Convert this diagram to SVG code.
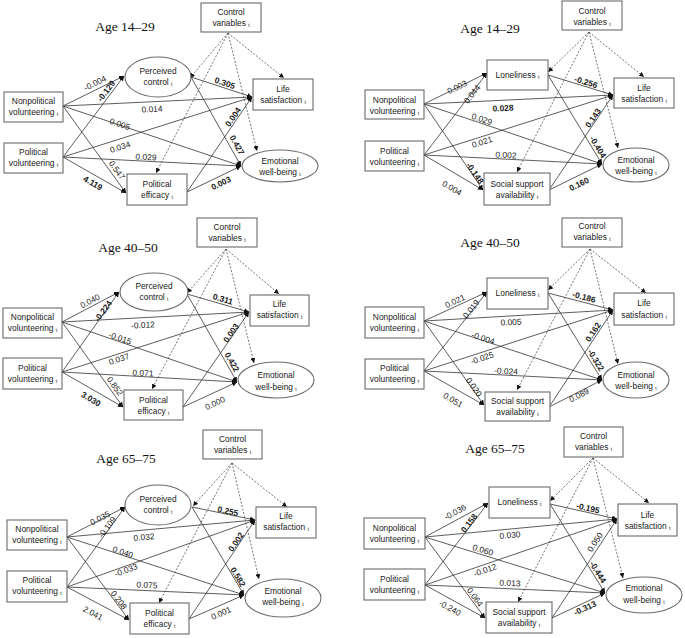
<svg xmlns="http://www.w3.org/2000/svg" width="685" height="638" viewBox="0 0 685 638">
<style>
.bg{fill:#fff}
.bx{fill:#fff;stroke:#6b6b6b;stroke-width:1.1}
.n{font-family:"Liberation Sans",Arial,sans-serif;font-size:8.4px;fill:#1a1a1a;text-anchor:middle}
.s{font-size:5px}
.ttl{font-family:"Liberation Serif","Times New Roman",serif;font-size:13.5px;fill:#111;text-anchor:middle}
.e{stroke:#333;stroke-width:0.8;fill:none;marker-end:url(#ah)}
.d{stroke:#444;stroke-width:0.75;fill:none;stroke-dasharray:2 1.6;marker-end:url(#ah)}
.l{font-family:"Liberation Sans",Arial,sans-serif;font-size:8.4px;fill:#1a1a1a;text-anchor:middle;dominant-baseline:central}
.b{font-weight:bold}
</style>
<defs>
<marker id="ah" viewBox="0 0 6 6" refX="6" refY="3" markerWidth="5" markerHeight="5" markerUnits="userSpaceOnUse" orient="auto">
<path d="M0,0 L6,3 L0,6 z" fill="#111"/>
</marker>
</defs>
<rect class="bg" x="0" y="0" width="685" height="638"/>

<!-- ================= PANEL 1 ================= -->
<g id="panel1">
<text class="ttl" x="125" y="31">Age 14–29</text>
<g id="p1-connectors">
<path class="e" d="M63,106 L124,76"/>
<path class="e" d="M63,106 L252,97"/>
<path class="e" d="M63,106 L241,166"/>
<path class="e" d="M63,106 L126,193"/>
<path class="e" d="M63,157 L124,76"/>
<path class="e" d="M63,157 L252,97"/>
<path class="e" d="M63,157 L241,166"/>
<path class="e" d="M63,157 L126,193"/>
<path class="e" d="M191,77 L252,97"/>
<path class="e" d="M191,77 L241,166"/>
<path class="e" d="M187,192 L252,97"/>
<path class="e" d="M187,192 L241,166"/>
<path class="d" d="M228,33 L190,78"/>
<path class="d" d="M228,33 L156,173"/>
<path class="d" d="M228,33 L284,78"/>
<path class="d" d="M228,33 L257,151"/>
</g>
<g id="p1-cv"><rect class="bx" x="201" y="3" width="60" height="29"/><text class="n" x="231" y="15">Control</text><text class="n" x="231" y="26">variables <tspan class="s" dy="1">t</tspan></text></g>
<g id="p1-np"><rect class="bx" x="4" y="92" width="59" height="30"/><text class="n" x="33.5" y="104">Nonpolitical</text><text class="n" x="33.5" y="115">volunteering <tspan class="s" dy="1">t</tspan></text></g>
<g id="p1-p"><rect class="bx" x="4" y="143" width="59" height="30"/><text class="n" x="33.5" y="155">Political</text><text class="n" x="33.5" y="166">volunteering <tspan class="s" dy="1">t</tspan></text></g>
<g id="p1-pc"><ellipse class="bx" cx="158" cy="77" rx="33" ry="20"/><text class="n" x="158" y="74">Perceived</text><text class="n" x="158" y="85">control <tspan class="s" dy="1">t</tspan></text></g>
<g id="p1-pe"><rect class="bx" x="127" y="174" width="60" height="31"/><text class="n" x="157" y="187">Political</text><text class="n" x="157" y="198">efficacy <tspan class="s" dy="1">t</tspan></text></g>
<g id="p1-ls"><rect class="bx" x="253" y="79" width="60" height="31"/><text class="n" x="283" y="92">Life</text><text class="n" x="283" y="103">satisfaction <tspan class="s" dy="1">t</tspan></text></g>
<g id="p1-ewb"><ellipse class="bx" cx="280" cy="166" rx="38" ry="16"/><text class="n" x="280" y="164">Emotional</text><text class="n" x="280" y="175">well-being <tspan class="s" dy="1">t</tspan></text></g>
<g id="p1-labels">
<text class="l" transform="translate(95,83) rotate(-26)">-0.004</text>
<text class="l b" transform="translate(106,91) rotate(-53)">-0.129</text>
<text class="l" transform="translate(152,109) rotate(-3)">0.014</text>
<text class="l" transform="translate(120,124) rotate(19)">0.005</text>
<text class="l" transform="translate(120,147) rotate(-18)">0.034</text>
<text class="l" transform="translate(146,157) rotate(3)">0.029</text>
<text class="l" transform="translate(117,170) rotate(54)">0.547</text>
<text class="l b" transform="translate(93,183) rotate(30)">4.119</text>
<text class="l b" transform="translate(225,83) rotate(18)">0.305</text>
<text class="l b" transform="translate(233,117) rotate(-56)">0.004</text>
<text class="l b" transform="translate(237,145) rotate(61)">0.427</text>
<text class="l b" transform="translate(221,183) rotate(-26)">0.003</text>
</g>
</g>

<!-- ================= PANEL 2 ================= -->
<g id="panel2">
<text class="ttl" x="490" y="33">Age 14–29</text>
<g id="p2-connectors">
<path class="e" d="M424,104 L487,73"/>
<path class="e" d="M424,104 L613,95"/>
<path class="e" d="M424,104 L602,164"/>
<path class="e" d="M424,104 L483,190"/>
<path class="e" d="M424,155 L487,73"/>
<path class="e" d="M424,155 L613,95"/>
<path class="e" d="M424,155 L602,164"/>
<path class="e" d="M424,155 L483,190"/>
<path class="e" d="M548,75 L613,95"/>
<path class="e" d="M548,75 L602,164"/>
<path class="e" d="M549,190 L613,95"/>
<path class="e" d="M549,190 L602,164"/>
<path class="d" d="M589,32 L548,72"/>
<path class="d" d="M589,32 L517,172"/>
<path class="d" d="M589,32 L644,77"/>
<path class="d" d="M589,32 L618,148"/>
</g>
<g id="p2-cv"><rect class="bx" x="562" y="1" width="60" height="29"/><text class="n" x="592" y="14">Control</text><text class="n" x="592" y="25">variables <tspan class="s" dy="1">t</tspan></text></g>
<g id="p2-np"><rect class="bx" x="365" y="90" width="59" height="29"/><text class="n" x="394.5" y="103">Nonpolitical</text><text class="n" x="394.5" y="114">volunteering <tspan class="s" dy="1">t</tspan></text></g>
<g id="p2-p"><rect class="bx" x="365" y="141" width="59" height="30"/><text class="n" x="394.5" y="154">Political</text><text class="n" x="394.5" y="165">volunteering <tspan class="s" dy="1">t</tspan></text></g>
<g id="p2-lon"><rect class="bx" x="487" y="60" width="61" height="30"/><text class="n" x="517.5" y="78">Loneliness <tspan class="s" dy="1">t</tspan></text></g>
<g id="p2-ss"><rect class="bx" x="484" y="173" width="66" height="32"/><text class="n" x="517" y="187">Social support</text><text class="n" x="517" y="198">availability <tspan class="s" dy="1">t</tspan></text></g>
<g id="p2-ls"><rect class="bx" x="614" y="78" width="60" height="30"/><text class="n" x="644" y="91">Life</text><text class="n" x="644" y="102">satisfaction <tspan class="s" dy="1">t</tspan></text></g>
<g id="p2-ewb"><ellipse class="bx" cx="636" cy="165" rx="33" ry="17"/><text class="n" x="636" y="163">Emotional</text><text class="n" x="636" y="174">well-being <tspan class="s" dy="1">t</tspan></text></g>
<g id="p2-labels">
<text class="l" transform="translate(457,87) rotate(-26)">0.003</text>
<text class="l" transform="translate(472,94) rotate(-53)">0.044</text>
<text class="l b" transform="translate(503,108) rotate(-3)">0.028</text>
<text class="l" transform="translate(482,119) rotate(19)">0.029</text>
<text class="l" transform="translate(482,142) rotate(-18)">0.021</text>
<text class="l" transform="translate(506,155) rotate(3)">0.002</text>
<text class="l b" transform="translate(475,173) rotate(55)">-0.148</text>
<text class="l" transform="translate(452,188) rotate(31)">0.004</text>
<text class="l b" transform="translate(586,82) rotate(17)">-0.256</text>
<text class="l b" transform="translate(593,118) rotate(-56)">0.143</text>
<text class="l b" transform="translate(598,147) rotate(59)">-0.404</text>
<text class="l b" transform="translate(579,184) rotate(-26)">0.160</text>
</g>
</g>

<!-- ================= PANEL 3 ================= -->
<g id="panel3">
<text class="ttl" x="128" y="252">Age 40–50</text>
<g id="p3-connectors">
<path class="e" d="M62,322 L119,292"/>
<path class="e" d="M62,322 L249,312"/>
<path class="e" d="M62,322 L237,382"/>
<path class="e" d="M62,322 L123,407"/>
<path class="e" d="M62,372 L119,292"/>
<path class="e" d="M62,372 L249,312"/>
<path class="e" d="M62,372 L237,382"/>
<path class="e" d="M62,372 L123,407"/>
<path class="e" d="M187,294 L249,312"/>
<path class="e" d="M187,294 L237,382"/>
<path class="e" d="M183,407 L249,312"/>
<path class="e" d="M183,407 L237,382"/>
<path class="d" d="M226,249 L187,293"/>
<path class="d" d="M226,249 L152,389"/>
<path class="d" d="M226,249 L279,294"/>
<path class="d" d="M226,249 L254,363"/>
</g>
<g id="p3-cv"><rect class="bx" x="197" y="218" width="60" height="29"/><text class="n" x="227" y="230">Control</text><text class="n" x="227" y="241">variables <tspan class="s" dy="1">t</tspan></text></g>
<g id="p3-np"><rect class="bx" x="3" y="308" width="59" height="30"/><text class="n" x="32.5" y="320">Nonpolitical</text><text class="n" x="32.5" y="331">volunteering <tspan class="s" dy="1">t</tspan></text></g>
<g id="p3-p"><rect class="bx" x="3" y="358" width="59" height="31"/><text class="n" x="32.5" y="371">Political</text><text class="n" x="32.5" y="382">volunteering <tspan class="s" dy="1">t</tspan></text></g>
<g id="p3-pc"><ellipse class="bx" cx="154" cy="292" rx="34" ry="19"/><text class="n" x="154" y="289">Perceived</text><text class="n" x="154" y="300">control <tspan class="s" dy="1">t</tspan></text></g>
<g id="p3-pe"><rect class="bx" x="124" y="390" width="59" height="30"/><text class="n" x="153.5" y="403">Political</text><text class="n" x="153.5" y="414">efficacy <tspan class="s" dy="1">t</tspan></text></g>
<g id="p3-ls"><rect class="bx" x="250" y="295" width="59" height="31"/><text class="n" x="279.5" y="307">Life</text><text class="n" x="279.5" y="318">satisfaction <tspan class="s" dy="1">t</tspan></text></g>
<g id="p3-ewb"><ellipse class="bx" cx="276" cy="380" rx="38" ry="18"/><text class="n" x="276" y="378">Emotional</text><text class="n" x="276" y="390">well-being <tspan class="s" dy="1">t</tspan></text></g>
<g id="p3-labels">
<text class="l" transform="translate(90,301) rotate(-28)">0.040</text>
<text class="l b" transform="translate(103,311) rotate(-54)">-0.224</text>
<text class="l" transform="translate(143,325) rotate(-3)">-0.012</text>
<text class="l" transform="translate(120,338) rotate(19)">-0.015</text>
<text class="l" transform="translate(119,359) rotate(-18)">0.037</text>
<text class="l" transform="translate(143,373) rotate(3)">0.071</text>
<text class="l" transform="translate(115,386) rotate(54)">0.852</text>
<text class="l b" transform="translate(91,399) rotate(30)">3.030</text>
<text class="l b" transform="translate(223,299) rotate(16)">0.311</text>
<text class="l b" transform="translate(231,333) rotate(-55)">0.003</text>
<text class="l b" transform="translate(232,362) rotate(60)">0.422</text>
<text class="l" transform="translate(215,403) rotate(-25)">0.000</text>
</g>
</g>

<!-- ================= PANEL 4 ================= -->
<g id="panel4">
<text class="ttl" x="490" y="247">Age 40–50</text>
<g id="p4-connectors">
<path class="e" d="M424,321 L487,292"/>
<path class="e" d="M424,321 L613,310"/>
<path class="e" d="M424,321 L602,380"/>
<path class="e" d="M424,321 L484,405"/>
<path class="e" d="M424,371 L487,292"/>
<path class="e" d="M424,371 L613,310"/>
<path class="e" d="M424,371 L602,380"/>
<path class="e" d="M424,371 L484,405"/>
<path class="e" d="M548,293 L613,310"/>
<path class="e" d="M548,293 L602,380"/>
<path class="e" d="M549,407 L613,310"/>
<path class="e" d="M549,407 L602,380"/>
<path class="d" d="M590,249 L548,290"/>
<path class="d" d="M590,249 L517,390"/>
<path class="d" d="M590,249 L646,293"/>
<path class="d" d="M590,249 L618,364"/>
</g>
<g id="p4-cv"><rect class="bx" x="562" y="218" width="60" height="29"/><text class="n" x="592" y="229">Control</text><text class="n" x="592" y="240">variables <tspan class="s" dy="1">t</tspan></text></g>
<g id="p4-np"><rect class="bx" x="365" y="307" width="59" height="31"/><text class="n" x="394.5" y="320">Nonpolitical</text><text class="n" x="394.5" y="331">volunteering <tspan class="s" dy="1">t</tspan></text></g>
<g id="p4-p"><rect class="bx" x="365" y="359" width="59" height="30"/><text class="n" x="394.5" y="371">Political</text><text class="n" x="394.5" y="382">volunteering <tspan class="s" dy="1">t</tspan></text></g>
<g id="p4-lon"><rect class="bx" x="487" y="278" width="61" height="31"/><text class="n" x="517.5" y="296">Loneliness <tspan class="s" dy="1">t</tspan></text></g>
<g id="p4-ss"><rect class="bx" x="485" y="392" width="65" height="29"/><text class="n" x="517.5" y="404">Social support</text><text class="n" x="517.5" y="415">availability <tspan class="s" dy="1">t</tspan></text></g>
<g id="p4-ls"><rect class="bx" x="614" y="293" width="60" height="32"/><text class="n" x="644" y="306">Life</text><text class="n" x="644" y="318">satisfaction <tspan class="s" dy="1">t</tspan></text></g>
<g id="p4-ewb"><ellipse class="bx" cx="636" cy="380" rx="33" ry="18"/><text class="n" x="636" y="378">Emotional</text><text class="n" x="636" y="389">well-being <tspan class="s" dy="1">t</tspan></text></g>
<g id="p4-labels">
<text class="l" transform="translate(455,301) rotate(-25)">0.021</text>
<text class="l" transform="translate(471,309) rotate(-51)">0.019</text>
<text class="l" transform="translate(511,322) rotate(-3)">0.005</text>
<text class="l" transform="translate(483,338) rotate(18)">-0.004</text>
<text class="l" transform="translate(482,358) rotate(-18)">-0.025</text>
<text class="l" transform="translate(506,371) rotate(3)">-0.024</text>
<text class="l" transform="translate(474,387) rotate(55)">0.020</text>
<text class="l" transform="translate(453,400) rotate(30)">0.051</text>
<text class="l b" transform="translate(584,297) rotate(15)">-0.186</text>
<text class="l b" transform="translate(593,332) rotate(-57)">0.162</text>
<text class="l b" transform="translate(596,360) rotate(58)">-0.322</text>
<text class="l" transform="translate(579,395) rotate(-27)">0.089</text>
</g>
</g>

<!-- ================= PANEL 5 ================= -->
<g id="panel5">
<text class="ttl" x="126" y="463">Age 65–75</text>
<g id="p5-connectors">
<path class="e" d="M67,537 L125,507"/>
<path class="e" d="M67,537 L255,520"/>
<path class="e" d="M67,537 L244,595"/>
<path class="e" d="M67,537 L129,620"/>
<path class="e" d="M67,587 L125,507"/>
<path class="e" d="M67,587 L255,520"/>
<path class="e" d="M67,587 L244,595"/>
<path class="e" d="M67,587 L129,620"/>
<path class="e" d="M192,507 L255,520"/>
<path class="e" d="M192,507 L244,595"/>
<path class="e" d="M189,619 L255,520"/>
<path class="e" d="M189,619 L244,595"/>
<path class="d" d="M232,463 L193,506"/>
<path class="d" d="M232,463 L159,603"/>
<path class="d" d="M232,463 L287,507"/>
<path class="d" d="M232,463 L259,579"/>
</g>
<g id="p5-cv"><rect class="bx" x="203" y="430" width="59" height="29"/><text class="n" x="232.5" y="442">Control</text><text class="n" x="232.5" y="453">variables <tspan class="s" dy="1">t</tspan></text></g>
<g id="p5-np"><rect class="bx" x="7" y="520" width="60" height="30"/><text class="n" x="37" y="532">Nonpolitical</text><text class="n" x="37" y="543">volunteering <tspan class="s" dy="1">t</tspan></text></g>
<g id="p5-p"><rect class="bx" x="7" y="571" width="60" height="31"/><text class="n" x="37" y="583">Political</text><text class="n" x="37" y="594">volunteering <tspan class="s" dy="1">t</tspan></text></g>
<g id="p5-pc"><ellipse class="bx" cx="158" cy="505" rx="33" ry="20"/><text class="n" x="158" y="502">Perceived</text><text class="n" x="158" y="513">control <tspan class="s" dy="1">t</tspan></text></g>
<g id="p5-pe"><rect class="bx" x="130" y="603" width="59" height="31"/><text class="n" x="159.5" y="616">Political</text><text class="n" x="159.5" y="627">efficacy <tspan class="s" dy="1">t</tspan></text></g>
<g id="p5-ls"><rect class="bx" x="256" y="507" width="60" height="31"/><text class="n" x="286" y="519">Life</text><text class="n" x="286" y="530">satisfaction <tspan class="s" dy="1">t</tspan></text></g>
<g id="p5-ewb"><ellipse class="bx" cx="283" cy="598" rx="38" ry="19"/><text class="n" x="283" y="594">Emotional</text><text class="n" x="283" y="605">well-being <tspan class="s" dy="1">t</tspan></text></g>
<g id="p5-labels">
<text class="l" transform="translate(100,518) rotate(-27)">0.035</text>
<text class="l" transform="translate(107,527) rotate(-54)">-0.109</text>
<text class="l" transform="translate(144,537) rotate(-5)">0.032</text>
<text class="l" transform="translate(123,552) rotate(18)">0.040</text>
<text class="l" transform="translate(126,570) rotate(-20)">-0.033</text>
<text class="l" transform="translate(147,585) rotate(3)">0.075</text>
<text class="l" transform="translate(119,600) rotate(53)">0.208</text>
<text class="l" transform="translate(93,613) rotate(28)">2.041</text>
<text class="l b" transform="translate(228,511) rotate(12)">0.255</text>
<text class="l b" transform="translate(236,542) rotate(-56)">0.002</text>
<text class="l b" transform="translate(238,577) rotate(59)">0.582</text>
<text class="l" transform="translate(221,613) rotate(-24)">0.001</text>
</g>
</g>

<!-- ================= PANEL 6 ================= -->
<g id="panel6">
<text class="ttl" x="495" y="453">Age 65–75</text>
<g id="p6-connectors">
<path class="e" d="M425,537 L488,503"/>
<path class="e" d="M425,537 L617,519"/>
<path class="e" d="M425,537 L605,593"/>
<path class="e" d="M425,537 L485,618"/>
<path class="e" d="M425,585 L488,503"/>
<path class="e" d="M425,585 L617,519"/>
<path class="e" d="M425,585 L605,593"/>
<path class="e" d="M425,585 L485,618"/>
<path class="e" d="M550,504 L617,519"/>
<path class="e" d="M550,504 L605,593"/>
<path class="e" d="M552,618 L617,519"/>
<path class="e" d="M552,618 L605,593"/>
<path class="d" d="M593,458 L550,501"/>
<path class="d" d="M593,458 L518,602"/>
<path class="d" d="M593,458 L649,503"/>
<path class="d" d="M593,458 L623,578"/>
</g>
<g id="p6-cv"><rect class="bx" x="564" y="427" width="59" height="30"/><text class="n" x="593.5" y="439">Control</text><text class="n" x="593.5" y="450">variables <tspan class="s" dy="1">t</tspan></text></g>
<g id="p6-np"><rect class="bx" x="364" y="518" width="61" height="31"/><text class="n" x="394.5" y="531">Nonpolitical</text><text class="n" x="394.5" y="542">volunteering <tspan class="s" dy="1">t</tspan></text></g>
<g id="p6-p"><rect class="bx" x="364" y="569" width="61" height="31"/><text class="n" x="394.5" y="582">Political</text><text class="n" x="394.5" y="593">volunteering <tspan class="s" dy="1">t</tspan></text></g>
<g id="p6-lon"><rect class="bx" x="489" y="487" width="61" height="31"/><text class="n" x="519.5" y="505">Loneliness <tspan class="s" dy="1">t</tspan></text></g>
<g id="p6-ss"><rect class="bx" x="486" y="602" width="66" height="31"/><text class="n" x="519" y="615">Social support</text><text class="n" x="519" y="626">availability <tspan class="s" dy="1">t</tspan></text></g>
<g id="p6-ls"><rect class="bx" x="618" y="504" width="59" height="32"/><text class="n" x="647.5" y="518">Life</text><text class="n" x="647.5" y="529">satisfaction <tspan class="s" dy="1">t</tspan></text></g>
<g id="p6-ewb"><ellipse class="bx" cx="644" cy="595" rx="38" ry="18"/><text class="n" x="644" y="591">Emotional</text><text class="n" x="644" y="603">well-being <tspan class="s" dy="1">t</tspan></text></g>
<g id="p6-labels">
<text class="l" transform="translate(455,512) rotate(-28)">-0.036</text>
<text class="l b" transform="translate(469,523) rotate(-53)">0.158</text>
<text class="l" transform="translate(510,535) rotate(-5)">0.030</text>
<text class="l" transform="translate(483,550) rotate(17)">0.060</text>
<text class="l" transform="translate(485,570) rotate(-19)">-0.012</text>
<text class="l" transform="translate(510,583) rotate(3)">0.013</text>
<text class="l" transform="translate(475,597) rotate(54)">0.064</text>
<text class="l" transform="translate(450,608) rotate(29)">-0.240</text>
<text class="l b" transform="translate(588,508) rotate(13)">-0.195</text>
<text class="l" transform="translate(595,542) rotate(-57)">0.050</text>
<text class="l b" transform="translate(598,572) rotate(58)">-0.444</text>
<text class="l b" transform="translate(585,608) rotate(-25)">-0.313</text>
</g>
</g>
</svg>
